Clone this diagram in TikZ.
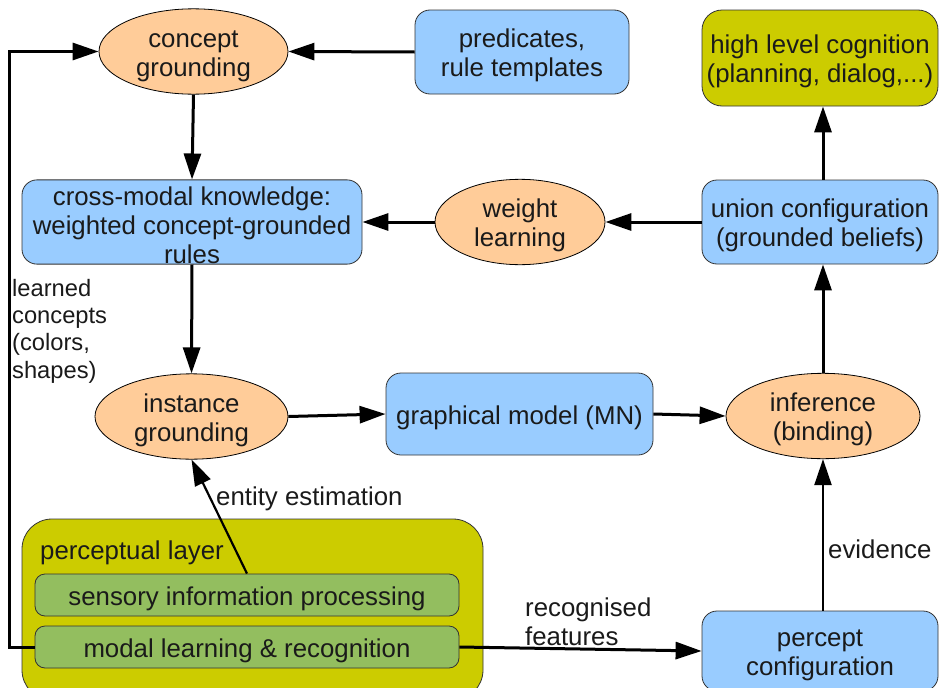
\documentclass[tikz,border=0pt]{standalone}
\usepackage{fontspec}
\setmainfont{Liberation Sans}
\usetikzlibrary{shapes.geometric,arrows.meta}
\definecolor{peach}{HTML}{FFCC99}
\definecolor{sky}{HTML}{99CCFF}
\definecolor{olivebox}{HTML}{CCCC00}
\definecolor{leaf}{HTML}{93BE5F}
\definecolor{ink}{HTML}{1A1A1A}
\newcommand{\upstrut}{\rule{0pt}{26pt}}
\begin{document}
\begin{tikzpicture}[x=1pt,y=-1pt,
 every node/.style={font=\fontsize{25.8}{29}\selectfont, text=ink, inner sep=0pt, align=center},
 oval/.style={ellipse, draw=black, line width=0.8pt, fill=peach},
 bbox/.style={rectangle, rounded corners=15pt, draw=black!80, line width=0.8pt, fill=sky},
 obox/.style={rectangle, rounded corners=20pt, draw=black!80, line width=0.8pt, fill=olivebox},
 gbox/.style={rectangle, rounded corners=10pt, draw=black!80, line width=0.8pt, fill=leaf},
 lbl/.style={anchor=west, align=left},
 arr/.style={line width=3pt, -{Triangle[length=26pt,width=17pt]}},
 thinarr/.style={line width=2.2pt, -{Triangle[length=26pt,width=17pt]}},
]
\useasboundingbox (0,0) rectangle (940,688);
% perceptual layer
\draw[fill=olivebox, draw=black!80, line width=0.8pt, rounded corners=30pt] (22,519) rectangle (483,700);
\node[lbl] (plt) at (40,553) {perceptual layer};
\node[gbox, minimum width=424pt, minimum height=42pt] (sip) at (247,595) {\upstrut sensory information processing};
\node[gbox, minimum width=424pt, minimum height=42pt] (mlr) at (247,647) {\upstrut modal learning \& recognition};

% top row
\node[oval, minimum width=189pt, minimum height=83pt] (cg) at (193.5,51.5) {\upstrut concept\\grounding};
\node[bbox, minimum width=214pt, minimum height=84pt] (pred) at (522,52) {\upstrut predicates,\\rule templates};
\node[obox, minimum width=236pt, minimum height=96pt] (hlc) at (820,58) {\upstrut high level cognition\\(planning, dialog,...)};

% second row
\node[bbox, minimum width=340pt, minimum height=84pt] (cmk) at (192,222) {\upstrut cross-modal knowledge:\\weighted concept-grounded\\rules};
\node[oval, minimum width=170pt, minimum height=84pt] (wl) at (520,222) {\upstrut weight\\learning};
\node[bbox, minimum width=236pt, minimum height=84pt] (uc) at (820,222) {\upstrut union configuration\\(grounded beliefs)};

% third row
\node[oval, minimum width=193pt, minimum height=83pt] (ig) at (191.5,416.5) {\upstrut instance\\grounding};
\node[bbox, minimum width=267pt, minimum height=82pt] (gm) at (519.5,414) {\upstrut graphical model (MN)};
\node[oval, minimum width=194pt, minimum height=84pt] (inf) at (823,416) {\upstrut inference\\(binding)};

% bottom right
\node[bbox, minimum width=236pt, minimum height=80pt] (pc) at (820,651) {\upstrut percept\\configuration};

% labels
\node[lbl, font=\fontsize{23.7}{27.3}\selectfont, anchor=north west] (lc) at (12,279) {learned\\concepts\\(colors,\\shapes)};
\node[lbl] (ee) at (216,499) {entity estimation};
\node[lbl] (ev) at (828,549) {evidence};
\node[lbl] (rf) at (525,622) {recognised\\features};

% connectors
\draw[arr] (pred.west) -- (cg.east);
\draw[arr] (mlr.west) -- ++(-25,0) |- (cg.west);
\draw[arr] (cg.south) -- (cmk.north);
\draw[arr] (wl.west) -- (cmk.east);
\draw[arr] (uc.west) -- (wl.east);
\draw[arr] (inf.north |- uc.north) -- (inf.north |- hlc.south);
\draw[arr] (cmk.south) -- (ig.north);
\draw[arr] (ig.east) -- (gm.west);
\draw[arr] (gm.east) -- (inf.west);
\draw[arr] (inf.north) -- (inf.north |- uc.south);
\draw[thinarr] (inf.south |- pc.north) -- (inf.south);
\draw[thinarr] (sip.north) -- (ig.south);
\draw[arr] (mlr.east) -- (pc.west);
\end{tikzpicture}
\end{document}
